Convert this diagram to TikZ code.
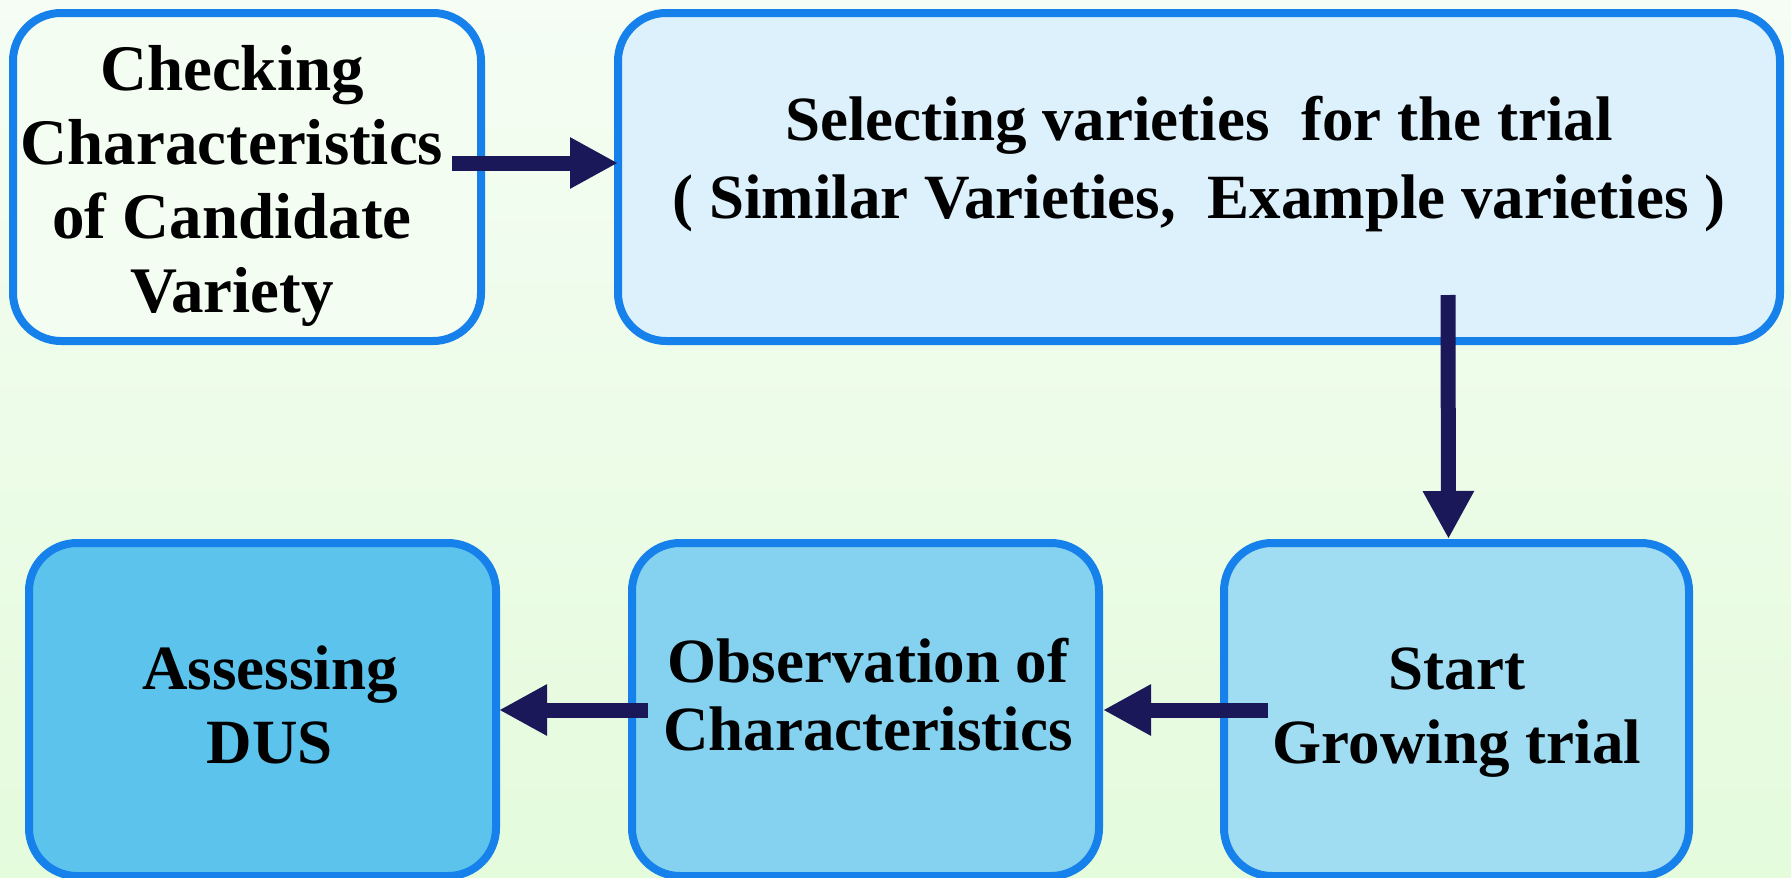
\documentclass[tikz,border=0pt]{standalone}
\usepackage{fontspec}
\setmainfont{Liberation Serif}
\usetikzlibrary{arrows.meta}
\definecolor{bgtop}{HTML}{F5FDF4}
\definecolor{bgbot}{HTML}{E4FBDC}
\definecolor{edge}{HTML}{1781EB}
\definecolor{arrowc}{HTML}{1A1858}
\definecolor{fillA}{HTML}{F4FDF2}
\definecolor{fillB}{HTML}{DDF1FC}
\definecolor{fillC}{HTML}{A0DCF2}
\definecolor{fillD}{HTML}{84D2EF}
\definecolor{fillE}{HTML}{5BC3EC}
\tikzset{
  box/.style={draw=edge, line width=8pt, rounded corners=48pt, outer sep=0pt, inner sep=0pt},
  lbl/.style={anchor=base, align=center, inner sep=0pt, font=\bfseries\fontsize{64pt}{74pt}\selectfont},
  arr/.style={draw=arrowc, line width=15pt, -{Triangle[length=48pt,width=48pt]}}
}
\begin{document}
\begin{tikzpicture}[x=1pt,y=-1pt]
\useasboundingbox (0,0) rectangle (1791,878);
\shade[top color=bgtop, bottom color=bgbot] (0,0) rectangle (1791,878);
% boxes
\node[box, fill=fillA, minimum width=468pt, minimum height=328pt] (b1) at (247,177) {};
\node[box, fill=fillB, minimum width=1162pt, minimum height=328pt] (b2) at (1199,177) {};
\node[box, fill=fillC, minimum width=465pt, minimum height=333pt] (b3) at (1456.5,709.5) {};
\node[box, fill=fillD, minimum width=467pt, minimum height=333pt] (b4) at (865.5,709.5) {};
\node[box, fill=fillE, minimum width=467pt, minimum height=333pt] (b5) at (262.5,709.5) {};
% texts (anchor = baseline of last line)
\node[lbl, font=\bfseries\fontsize{65pt}{74pt}\selectfont] (t1) at (232,312) {Checking\\Characteristics\\of Candidate\\Variety};
\node[lbl, font=\bfseries\fontsize{63pt}{78pt}\selectfont] (t2) at (1199,218) {Selecting varieties~ for the trial\\( Similar Varieties,~ Example varieties )};
\node[lbl, font=\bfseries\fontsize{63pt}{74pt}\selectfont] (t3) at (1457,763) {Start\\Growing trial};
\node[lbl, font=\bfseries\fontsize{63pt}{68pt}\selectfont] (t4) at (868,750) {Observation of\\Characteristics};
\node[lbl, font=\bfseries\fontsize{63pt}{74pt}\selectfont] (t5) at (270,763) {Assessing\\DUS};
% connectors
\draw[arr] ([xshift=-29pt,yshift=14pt]b1.east) -- ([yshift=14pt]b2.west);
\draw[arr] ([xshift=249pt,yshift=46pt]b2.south) -- ([xshift=-8pt,yshift=4pt]b3.north);
\draw[arr] ([xshift=44pt,yshift=-0.5pt]b3.west) -- ([xshift=4pt,yshift=-0.5pt]b4.east);
\draw[arr] ([xshift=16pt,yshift=-0.5pt]b4.west) -- ([xshift=3pt,yshift=-0.5pt]b5.east);
\end{tikzpicture}
\end{document}
